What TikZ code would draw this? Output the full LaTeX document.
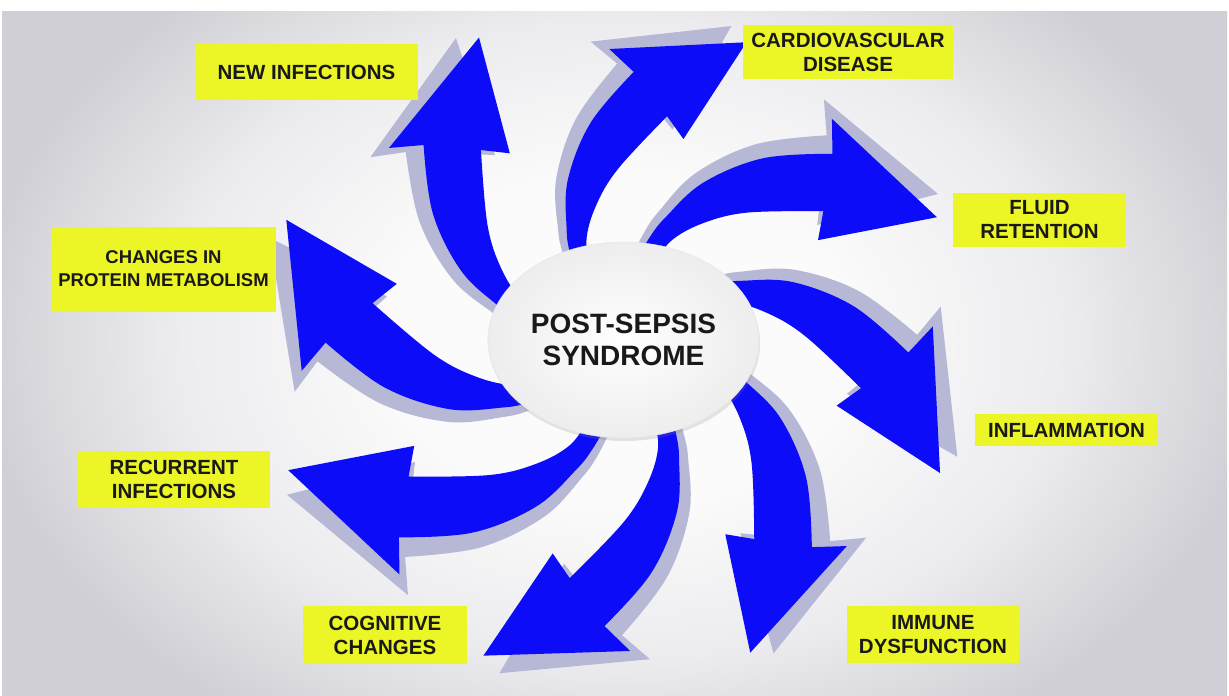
\documentclass[tikz,border=0pt]{standalone}
\usepackage{fontspec}
\setmainfont{Liberation Sans}
\usetikzlibrary{shapes.geometric,shadows}
\definecolor{swirlblue}{RGB}{12,12,248}
\definecolor{swirlshade}{RGB}{182,184,214}
\definecolor{labelyellow}{RGB}{236,245,38}
\definecolor{bgedge}{RGB}{207,207,213}
\definecolor{bgmid}{RGB}{236,236,239}
\definecolor{bgbright}{RGB}{251,251,251}
\pgfdeclareradialshading{bgglow}{\pgfpointorigin}{color(0bp)=(bgbright); color(8bp)=(bgbright); color(16bp)=(bgmid); color(23bp)=(bgedge); color(50bp)=(bgedge)}
\tikzset{
  tag/.style={fill=labelyellow, inner sep=0pt, align=center, text=black!90,
    font=\fontsize{20.5}{24}\selectfont\bfseries},
  core/.style={ellipse, minimum width=257pt, minimum height=196pt,
    inner color=white, outer color=black!7, draw=black!10,
    drop shadow={opacity=0.2, shadow xshift=1pt, shadow yshift=-3pt},
    font=\fontsize{28}{32}\selectfont\bfseries, align=center, text=black!90}
}
% one swirl arrow: #1 turn (deg), #2 radial scale
\newcommand{\swirl}[2]{%
  ({#1-80}:{#2*80})
  -- plot[smooth,tension=0.6] coordinates {({#1-80}:{#2*80}) ({#1-74.8}:{#2*107}) ({#1-70.5}:{#2*130}) ({#1-62.7}:{#2*177}) ({#1-52.2}:{#2*230}) ({#1-41.5}:{#2*281})}
  -- ({#1-46.5}:{#2*305}) -- ({#1-21.3}:{#2*338}) -- ({#1-27}:{#2*220}) -- ({#1-32.6}:{#2*239})
  -- plot[smooth,tension=0.6] coordinates {({#1-32.6}:{#2*239}) ({#1-45.4}:{#2*179}) ({#1-55.3}:{#2*142}) ({#1-63.8}:{#2*110}) ({#1-67}:{#2*80})}
  -- cycle}

\begin{document}
\begin{tikzpicture}[x=1pt,y=-1pt]
\useasboundingbox (0,0) rectangle (1229,696);
\fill[white] (0,0) rectangle (1229,696);
\begin{scope}
  \clip (2,11) rectangle (1227,696);
  \shade[shading=bgglow] (-80,-160) rectangle (1320,840);
\end{scope}
% arrows
\begin{scope}[shift={(622,340)}]
  \foreach \a/\s in {0/1.0, 44/1.02, 89/1.0, 135/1.02, 180/1.06, 221/1.055, 266/0.99, 314/0.955}
    \fill[swirlshade] \swirl{\a-3.5}{\s*1.03};
  \foreach \a/\s in {0/1.0, 44/1.02, 89/1.0, 135/1.02, 180/1.06, 221/1.055, 266/0.99, 314/0.955}
    \fill[swirlblue] \swirl{\a}{\s};
\end{scope}
\node[core] (pss) at (623.5,340) {POST-SEPSIS\\SYNDROME};
% labels
\node[tag, minimum width=223pt, minimum height=56pt] (ni) at (306.5,72) {NEW INFECTIONS};
\node[tag, minimum width=210pt, minimum height=54pt] (cv) at (848,52) {CARDIOVASCULAR\\DISEASE};
\node[tag, minimum width=173pt, minimum height=54pt] (fr) at (1039.5,220) {FLUID\\RETENTION};
\node[tag, minimum width=183pt, minimum height=32pt] (inf) at (1066.5,430) {INFLAMMATION};
\node[tag, minimum width=172pt, minimum height=57pt] (imm) at (933,634.5) {IMMUNE\\DYSFUNCTION};
\node[tag, minimum width=164pt, minimum height=58pt] (cog) at (385,635) {COGNITIVE\\CHANGES};
\node[tag, minimum width=192pt, minimum height=57pt] (rec) at (174,479.5) {RECURRENT\\INFECTIONS};
\node[tag, minimum width=225pt, minimum height=85pt, font=\fontsize{18.5}{23}\selectfont\bfseries] (prot) at (163.5,269) {CHANGES IN\\PROTEIN METABOLISM};
\end{tikzpicture}
\end{document}
